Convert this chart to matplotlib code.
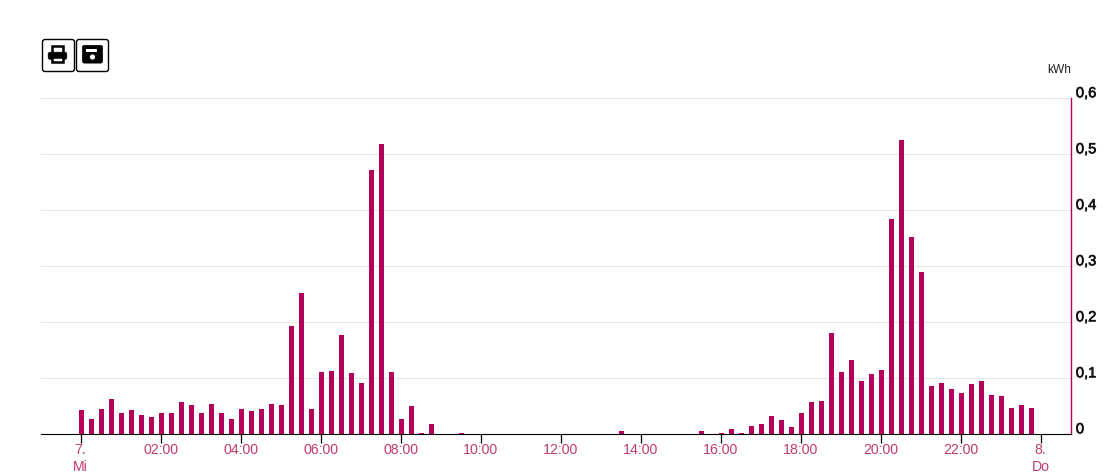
# %%
import numpy as np
import matplotlib.pyplot as plt
import matplotlib.patheffects as pe
from matplotlib.transforms import ScaledTranslation
from matplotlib.patches import FancyBboxPatch, Rectangle, Circle

plt.rcParams['font.family'] = ['Liberation Sans', 'DejaVu Sans']

# kWh per quarter hour, 00:00 to 23:45
kwh = [0.043, 0.027, 0.045, 0.063, 0.038, 0.043, 0.035, 0.031,
       0.038, 0.038, 0.058, 0.052, 0.038, 0.054, 0.038, 0.027,
       0.045, 0.042, 0.045, 0.054, 0.052, 0.193, 0.252, 0.045,
       0.111, 0.113, 0.177, 0.110, 0.092, 0.472, 0.518, 0.111,
       0.027, 0.050, 0.003, 0.018, 0, 0, 0.003, 0,
       0, 0, 0, 0, 0, 0, 0, 0,
       0, 0, 0, 0, 0, 0, 0.006, 0,
       0, 0, 0, 0, 0, 0, 0.006, 0,
       0.003, 0.010, 0.003, 0.015, 0.018, 0.033, 0.026, 0.013,
       0.038, 0.058, 0.060, 0.181, 0.111, 0.133, 0.095, 0.108,
       0.115, 0.384, 0.525, 0.352, 0.289, 0.086, 0.092, 0.081,
       0.074, 0.090, 0.095, 0.070, 0.068, 0.047, 0.052, 0.047]
hours = np.arange(len(kwh)) * 0.25

x_ticks = [0, 2, 4, 6, 8, 10, 12, 14, 16, 18, 20, 22, 24]
x_labels = ['7.\nMi', '02:00', '04:00', '06:00', '08:00', '10:00', '12:00',
            '14:00', '16:00', '18:00', '20:00', '22:00', '8.\nDo']
y_ticks = [0, 0.1, 0.2, 0.3, 0.4, 0.5, 0.6]
y_labels = ['0', '0,1', '0,2', '0,3', '0,4', '0,5', '0,6']

W, H = 1117, 476
CRIMSON = '#b5005b'

fig = plt.figure(figsize=(W / 100, H / 100), dpi=100)
ax = fig.add_axes([41 / W, 1 - 434.3 / H, 1030 / W, 336 / H])

ax.bar(hours + 0.015, kwh, width=0.125, color=CRIMSON, zorder=3)

ax.set_xlim(-0.9875, 24.7625)
ax.set_ylim(0, 0.6)
ax.grid(axis='y', color='#e6e6e6', linewidth=0.8)
ax.set_axisbelow(True)
for s in ['top', 'left']:
    ax.spines[s].set_visible(False)
ax.spines['bottom'].set_color('black')
ax.spines['bottom'].set_linewidth(0.8)
ax.spines['right'].set_color(CRIMSON)
ax.spines['right'].set_linewidth(1.0)

ax.set_xticks(x_ticks)
ax.set_xticklabels(x_labels, color='#c0396f', fontsize=10.2, linespacing=1.2)
ax.tick_params(axis='x', length=6.5, width=0.9, color='black', pad=0.1)

ax.yaxis.tick_right()
ax.set_yticks(y_ticks)
ax.set_yticklabels(y_labels, fontsize=10.6, color='#111111', va='center')
ax.tick_params(axis='y', length=0, pad=3.5)
for lab in ax.get_yticklabels():
    lab.set_transform(lab.get_transform() + ScaledTranslation(0, 5 / 100, fig.dpi_scale_trans))
    lab.set_path_effects([pe.withStroke(linewidth=0.45, foreground='#111111')])

# overlay in pixels for the buttons and unit label
ov = fig.add_axes([0, 0, 1, 1], facecolor='none')
ov.set_xlim(0, W)
ov.set_ylim(H, 0)
ov.axis('off')

ov.text(1059, 70, 'kWh', fontsize=8.6, color='#222222', ha='center', va='center')

for bx in [42.5, 76.5]:
    ov.add_patch(FancyBboxPatch((bx, 39.5), 32, 32, boxstyle='round,pad=0,rounding_size=2.5',
                                fc='white', ec='black', lw=1))

# printer icon
ov.add_patch(Rectangle((52, 46), 11, 8, fc='white', ec='black', lw=1.8))
ov.add_patch(FancyBboxPatch((48.5, 52.5), 18, 6.5, boxstyle='round,pad=0.3,rounding_size=2',
                            fc='black', ec='black', lw=0.5))
ov.add_patch(Rectangle((52, 57), 11, 5, fc='white', ec='black', lw=1.8))

# floppy icon
ov.add_patch(FancyBboxPatch((83, 46), 19, 16.5, boxstyle='round,pad=0.6,rounding_size=2',
                            fc='black', ec='black', lw=0.5))
ov.add_patch(Rectangle((86, 49), 11, 3, fc='white', ec='none'))
ov.add_patch(Circle((92.5, 57), 2.6, fc='white', ec='none'))

fig.savefig('out.png', dpi=100)
